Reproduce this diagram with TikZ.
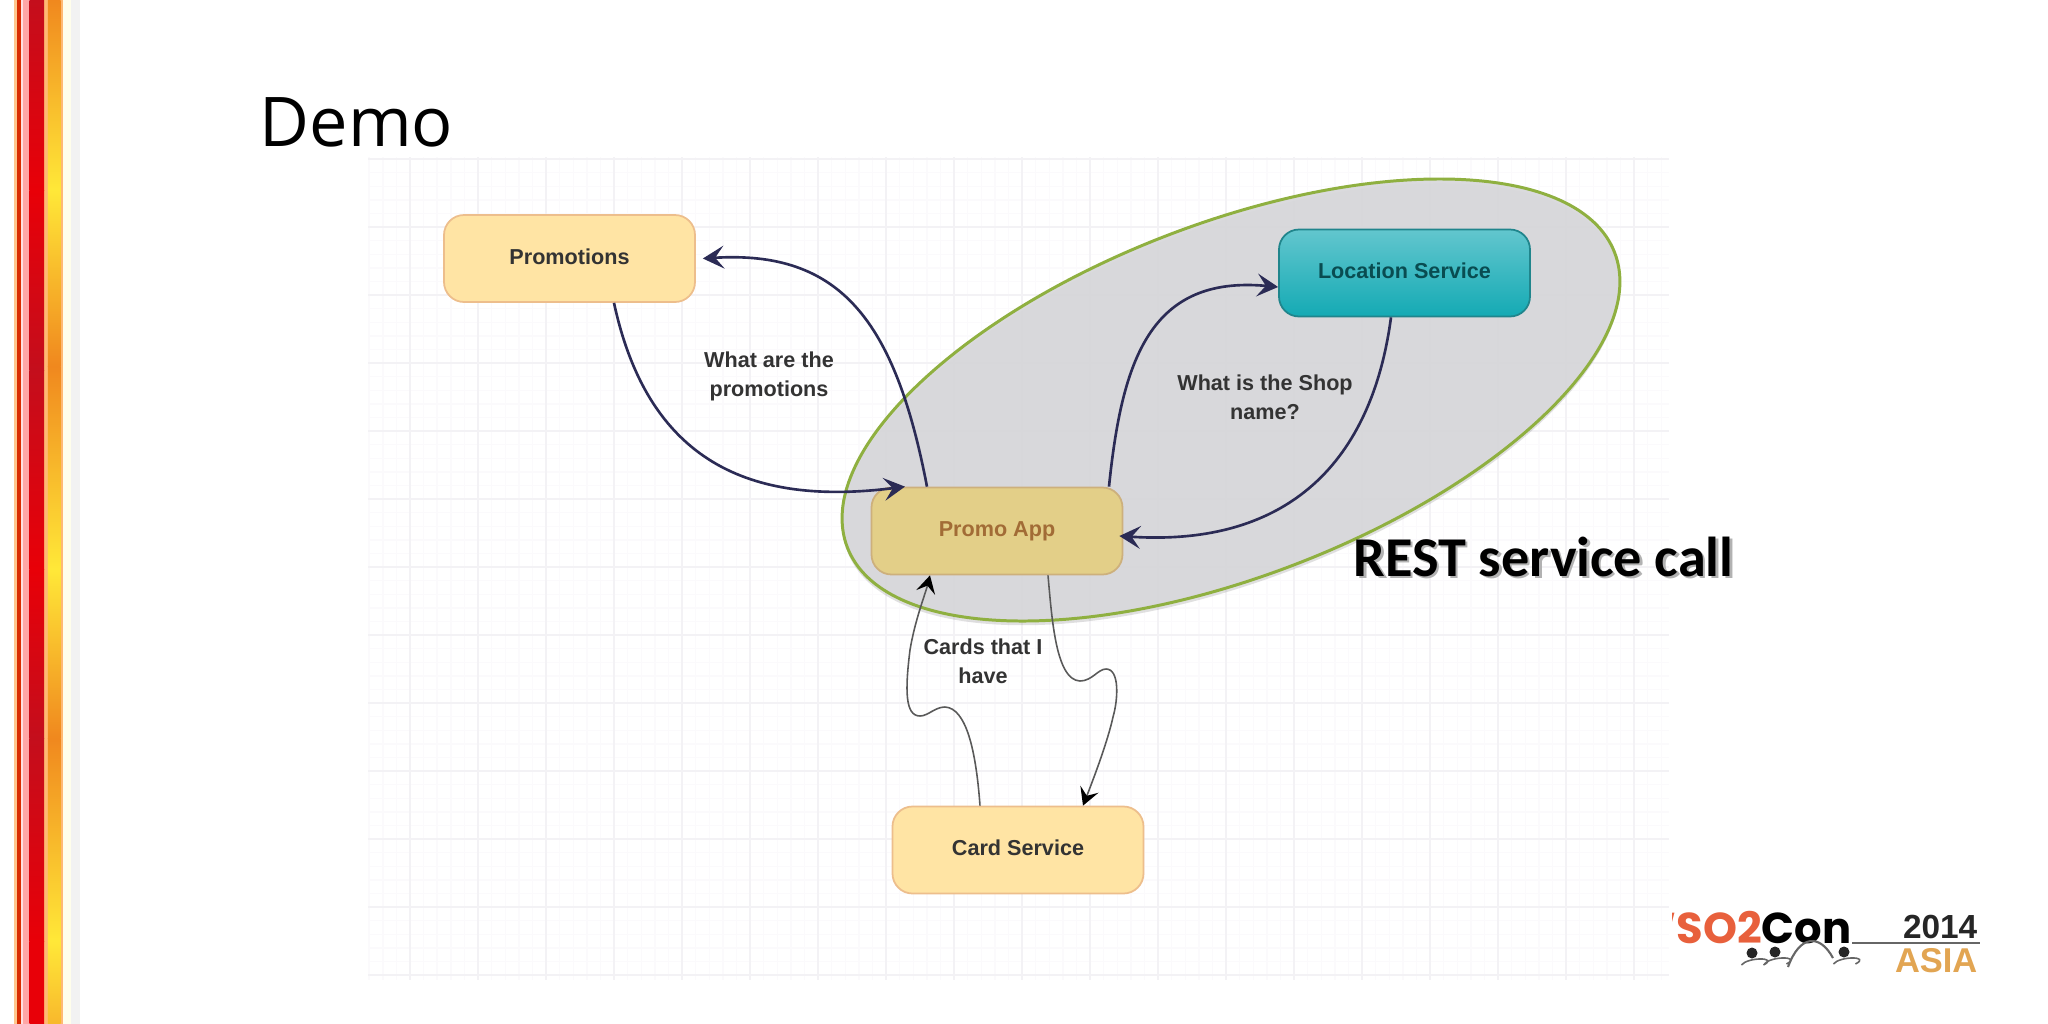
\documentclass[tikz,border=0pt]{standalone}
\usepackage{fontspec}
\setmainfont{Liberation Sans}
\newfontfamily\titlefont{Open Sans}
\newfontfamily\callfont{Carlito}
\newfontfamily\logofont{Poppins}
\usepackage{tikz}
\usetikzlibrary{
  arrows.meta,
  shapes.geometric,
  shadows
}
\definecolor{boxyellow}{HTML}{FFE4A4}
\definecolor{boxedge}{HTML}{EDBE8C}
\definecolor{appfill}{HTML}{E3CF88}
\definecolor{appedge}{HTML}{CDB07C}
\definecolor{tealtop}{HTML}{62C6CE}
\definecolor{tealbottom}{HTML}{14AAB4}
\definecolor{tealedge}{HTML}{20858C}
\definecolor{zonefill}{HTML}{D8D8DB}
\definecolor{zoneedge}{HTML}{8FB040}
\definecolor{linknavy}{HTML}{2B2B55}
\definecolor{gridminor}{HTML}{FBFAFC}
\definecolor{gridmajor}{HTML}{F3F2F5}
\definecolor{logored}{HTML}{E8603C}
\definecolor{logoamber}{HTML}{E2A552}
\definecolor{bandorange}{HTML}{F0881E}
\definecolor{bandyellow}{HTML}{FFE838}
\definecolor{bandmid}{HTML}{F8B82C}
\definecolor{banddark}{HTML}{C40E1C}
\definecolor{bandred}{HTML}{E80008}
\newcommand{\softcast}[1]{\rlap{\kern.7pt\raisebox{-.7pt}{\textcolor{black!30}{#1}}}#1}

\begin{document}
\begin{tikzpicture}[
      x=1cm,y=-1cm,
      service/.style={
         rectangle,
         rounded corners=.2cm,
         minimum width=2.51cm,
         minimum height=.87cm,
         inner sep=0pt,
         line width=.5pt,
         fill=boxyellow,
         draw=boxedge,
         text=black!80,
         text height=1.6ex,
         text depth=1ex,
         font=\fontsize{6.15}{8.2}\selectfont\bfseries
      },
      caption/.style={
         align=center,
         inner sep=0pt,
         text=black!80,
         font=\fontsize{6.15}{8.2}\selectfont\bfseries
      },
      >={Stealth[length=6pt,width=6.5pt,inset=2.5pt]},
      link/.style={->,line width=.75pt,draw=linknavy},
      wavy link/.style={
         ->,line width=.45pt,draw=black!65,
         >={Stealth[length=5pt,width=5.5pt,inset=2pt,color=black]}
      },
      gridfine/.style={line width=.4pt,draw=gridminor},
      gridbold/.style={line width=.45pt,draw=gridmajor},
      person/.style={circle,fill=black!85,inner sep=0pt,minimum size=1.1mm},
      shoulder/.style={line width=.45pt,draw=black!60},
    ]
    \useasboundingbox (0,0) rectangle (20.48,10.24);
    \fill[white] (0,0) rectangle (20.48,10.24);

    % side band
    \fill[black!5] (.71,0) rectangle (.80,10.24);
    \fill[yellow!8] (.63,0) rectangle (.71,10.24);
    \fill[orange!45] (.14,0) rectangle (.17,10.24);
    \fill[red!60!orange!85!black] (.17,0) rectangle (.21,10.24);
    \fill[red!12] (.21,0) rectangle (.23,10.24);
    \fill[red!35] (.23,0) rectangle (.293,10.24);
    \fill[orange!55] (.44,0) rectangle (.633,10.24);
    \foreach \ya/\yb/\ca/\cb in {0/1.90/banddark/bandred,1.90/3.70/bandred/banddark,3.70/5.69/banddark/bandred,5.69/7.38/bandred/banddark,7.38/9.41/banddark/bandred,9.41/10.24/bandred/bandred}
      \shade[top color=\ca,bottom color=\cb] (.293,\ya) rectangle (.44,\yb);
    \foreach \ya/\yb/\ca/\cb in {0/1.90/bandorange/bandyellow,1.90/3.66/bandyellow/bandorange,3.66/5.69/bandorange/bandyellow,5.69/7.38/bandyellow/bandorange,7.38/9.41/bandorange/bandyellow,9.41/10.24/bandyellow/bandmid}
      \shade[top color=\ca,bottom color=\cb] (.48,\ya) rectangle (.607,\yb);

    % drawing sheet
    \foreach \gi in {0,...,95} \draw[gridfine] ({3.692+.136*\gi},1.57) -- ++(0,8.23);
    \foreach \gi in {0,...,60} \draw[gridfine] (3.68,{1.59+.136*\gi}) -- ++(13.01,0);
    \foreach \gi in {0,...,18} \draw[gridbold] ({4.10+.68*\gi},1.57) -- ++(0,8.23);
    \foreach \gi in {0,...,12} \draw[gridbold] (3.68,{1.59+.68*\gi}) -- ++(13.01,0);

    \node (nTitle) [anchor=base west,inner sep=0pt,font=\titlefont\fontsize{19.5}{24}\selectfont] at (2.59,1.46) {Demo};

    \node (nZone) [ellipse,rotate=21,minimum width=8.22cm,minimum height=3.53cm,inner sep=0pt,
       fill=zonefill,fill opacity=.93,draw=zoneedge,line width=.85pt,
       drop shadow={shadow xshift=0pt,shadow yshift=-1.2pt,opacity=.2,fill=black!60}] at (12.31,4.00) {};

    \node (nPromotions) [service] at (5.695,2.585) {Promotions};
    \node (nLocation) [service,top color=tealtop,bottom color=tealbottom,draw=tealedge,text=black!55!tealbottom] at (14.045,2.73) {Location Service};
    \node (nPromoApp) [service,fill=appfill,draw=appedge,text=brown!85!black] at (9.97,5.31) {Promo App};
    \node (nCard) [service] at (10.18,8.50) {Card Service};

    \node (nAskPromo) [caption] at (7.69,3.76) {What are the\\promotions};
    \node (nAskShop) [caption] at (12.65,3.97) {What is the Shop\\name?};
    \node (nAskCards) [caption] at (9.83,6.61) {Cards that I\\have};

    \draw[link] ([xshift=.445cm]nPromotions.south) .. controls (6.50,4.70) and (7.60,5.05) .. ([xshift=-.92cm]nPromoApp.north);
    \draw[link] ([xshift=-.70cm]nPromoApp.north) .. controls (8.95,3.20) and (8.40,2.50) .. ([xshift=.07cm]nPromotions.east);
    \draw[link] ([xshift=1.12cm]nPromoApp.north) .. controls (11.22,3.60) and (11.50,2.75) .. ([yshift=-.14cm]nLocation.west);
    \draw[link] ([xshift=-.135cm]nLocation.south) .. controls (13.72,4.60) and (12.90,5.47) .. ([yshift=-.05cm,xshift=-.04cm]nPromoApp.east);

    \draw[wavy link] ([xshift=-.38cm]nCard.north) .. controls (9.76,7.50) and (9.66,7.08) .. (9.45,7.07)
       .. controls (9.35,7.07) and (9.28,7.16) .. (9.20,7.16)
       .. controls (9.05,7.16) and (9.05,6.90) .. (9.10,6.50)
       .. controls (9.15,6.20) and (9.25,5.95) .. ([xshift=-.67cm]nPromoApp.south);
    \draw[wavy link] ([xshift=.51cm]nPromoApp.south) .. controls (10.52,6.20) and (10.56,6.80) .. (10.80,6.81)
       .. controls (10.92,6.81) and (10.98,6.69) .. (11.06,6.69)
       .. controls (11.20,6.69) and (11.18,7.00) .. (11.13,7.17)
       .. controls (11.08,7.40) and (10.95,7.75) .. ([xshift=.65cm]nCard.north);

    \node (nRest) [anchor=base west,inner sep=0pt,font=\callfont\bfseries\fontsize{16}{20}\selectfont] at (13.53,5.76) {\softcast{REST service call}};

    % conference mark
    \begin{scope}
      \clip (16.72,8.90) rectangle (18.60,9.60);
      \node (nMark) [anchor=base east,inner sep=0pt,font=\logofont\bfseries\fontsize{12.3}{14}\selectfont] at (18.52,9.43) {\textcolor{logored}{WSO2}\textcolor{black}{Con}};
    \end{scope}
    \node (nYear) [anchor=base east,inner sep=0pt,text=black!85,font=\bfseries\fontsize{9.5}{11}\selectfont] at (19.78,9.38) {2014};
    \node (nAsia) [anchor=base east,inner sep=0pt,text=logoamber,font=\bfseries\fontsize{9.8}{11}\selectfont] at (19.78,9.72) {ASIA};
    \draw[line width=.35pt,draw=black!60] (nMark.base east) -- ++(1.28,0);
    \node (nPersonA) [person] at (17.52,9.53) {};
    \node (nPersonB) [person] at (17.75,9.52) {};
    \node (nPersonC) [person] at (18.44,9.52) {};
    \draw[shoulder] ([yshift=-3.4pt,xshift=-3pt]nPersonA.center) .. controls +(.06,-.08) and +(.16,-.08) .. ++(.22,0);
    \draw[shoulder] ([yshift=-3.4pt,xshift=-3pt]nPersonB.center) .. controls +(.06,-.08) and +(.16,-.08) .. ++(.22,0);
    \draw[shoulder] ([yshift=-3.4pt,xshift=-3pt]nPersonC.center) .. controls +(.06,-.08) and +(.16,-.08) .. ++(.22,0);
    \draw[shoulder,line width=.6pt] (17.88,9.67) .. controls (18.00,9.34) and (18.20,9.34) .. (18.33,9.58);
\end{tikzpicture}
\end{document}
